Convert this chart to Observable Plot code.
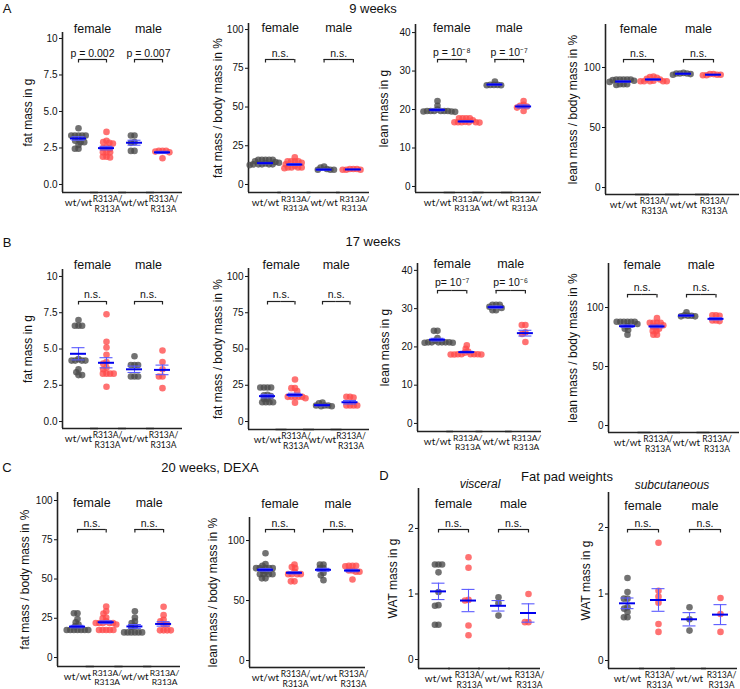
<!DOCTYPE html>
<html><head><meta charset="utf-8">
<script src="https://cdn.jsdelivr.net/npm/d3@7"></script>
<script src="https://cdn.jsdelivr.net/npm/@observablehq/plot@0.6"></script>
<style>
html,body{margin:0;padding:0;background:#fff;}
#root{position:relative;width:740px;height:689px;overflow:hidden;font-family:"Liberation Sans",Arial,sans-serif;color:#111;}
.t{position:absolute;transform:translate(-50%,-50%);line-height:1;white-space:nowrap;}
</style></head>
<body><div id="root"></div>
<script>
// ---------- categories ----------
const groups = ["female wt/wt", "female R313A/R313A", "male wt/wt", "male R313A/R313A"];
const catLabels = ["wt/wt", "R313A/\nR313A", "wt/wt", "R313A/\nR313A"];
const sexLabels = ["female", "male"];

// ---------- tick values / labels ----------
const ticksFat = [0, 2.5, 5, 7.5, 10];
const ticksFatLabels = ["0.0", "2.5", "5.0", "7.5", "10"];
const ticksPct = [0, 25, 50, 75, 100];
const ticksPctLabels = ["0", "25", "50", "75", "100"];
const ticksLean = [0, 10, 20, 30, 40];
const ticksLeanLabels = ["0", "10", "20", "30", "40"];
const ticksLeanPct = [0, 50, 100];
const ticksLeanPctLabels = ["0", "50", "100"];
const ticksWat = [0, 1, 2];
const ticksWatLabels = ["0", "1", "2"];

// ---------- A: 9 weeks ----------
const a_fat_g = [
  [3.85, 3.35, 3.35, 3.35, 3.35, 3.35, 3.1, 3.0, 2.9, 2.9, 2.7, 2.45, 2.45],
  [3.6, 3.0, 2.9, 2.85, 2.8, 2.55, 2.5, 2.45, 2.2, 2.2, 2.2, 1.9, 1.9, 1.85],
  [3.35, 3.35, 2.9, 2.85, 2.3, 2.3],
  [2.3, 2.3, 2.3, 2.25, 2.2, 1.8]
];
const a_fat_g_mean = [3.15, 2.49, 2.86, 2.2];
const a_fat_g_sem = [0.12, 0.12, 0.17, 0.07];
const a_fat_g_sig = ["p = 0.002", "p = 0.007"];

const a_fat_pct = [
  [16, 16, 16, 16, 16, 15, 14.5, 14, 13.5, 13, 13, 13, 13, 13, 12.5],
  [17.5, 15, 15, 15, 15, 14, 13, 12, 11, 11, 11, 11, 10.5],
  [11.5, 11, 10, 9.5, 9.5, 9.5],
  [10, 10, 10, 9.5, 9.5, 9.5]
];
const a_fat_pct_mean = [13.8, 12.9, 9.6, 9.7];
const a_fat_pct_sem = [0.45, 0.6, 0.35, 0.15];
const a_fat_pct_sig = ["n.s.", "n.s."];

const a_lean_g = [
  [22.2, 21, 20, 19.6, 19.6, 19.6, 19.6, 19.6, 19.6, 19.5, 19.5, 19.4],
  [17.7, 17.7, 17.7, 17.7, 17.2, 16.8, 16.7, 16.7, 16.7, 16.7, 16.7, 16.6],
  [27.3, 26.4, 26.4, 26.4, 26.3, 26.3],
  [22.2, 21.2, 21, 20.8, 20.5, 19.6]
];
const a_lean_g_mean = [19.9, 16.9, 26.5, 20.8];
const a_lean_g_sem = [0.25, 0.15, 0.15, 0.4];
const a_lean_g_sig = ["p = 10⁻⁸", "p = 10⁻⁷"];

const a_lean_pct = [
  [90, 90, 90, 90, 90, 89.5, 89, 88, 86, 86, 86, 85.5],
  [92.5, 92, 91.5, 90.5, 90, 89, 88.5, 88.5, 88.5, 88.5, 88.5],
  [95.5, 95, 95, 95, 94.5, 94],
  [94.5, 94.5, 94, 94, 93.5, 93.5]
];
const a_lean_pct_mean = [88.3, 90, 94.8, 94];
const a_lean_pct_sem = [0.5, 0.5, 0.3, 0.2];
const a_lean_pct_sig = ["n.s.", "n.s."];

// ---------- B: 17 weeks ----------
const b_fat_g = [
  [7.0, 6.6, 6.6, 6.6, 4.3, 4.2, 4.2, 4.2, 4.2, 3.6, 3.4, 3.2, 3.2],
  [7.4, 5.5, 5.1, 4.6, 4.1, 4.0, 3.7, 3.6, 3.3, 3.3, 3.3, 3.3, 2.4],
  [4.5, 3.9, 3.9, 3.9, 3.1, 3.1, 3.1],
  [4.9, 4.1, 3.6, 3.1, 3.1, 2.3]
];
const b_fat_g_mean = [4.67, 4.05, 3.6, 3.56];
const b_fat_g_sem = [0.42, 0.35, 0.22, 0.33];
const b_fat_g_sig = ["n.s.", "n.s."];

const b_fat_pct = [
  [23.5, 23.5, 23.5, 23.5, 18.5, 18, 17.5, 15.5, 15.5, 13.3, 13.3, 13.3, 13.3],
  [29, 23, 23, 21, 17, 17, 17, 17, 17, 16, 13],
  [13, 12.5, 11, 11, 11, 10.5, 10.5],
  [17, 17, 16.5, 11, 11, 11, 11]
];
const b_fat_pct_mean = [17.5, 18.4, 11.3, 13.3];
const b_fat_pct_sem = [1.2, 1.1, 0.5, 1.2];
const b_fat_pct_sig = ["n.s.", "n.s."];

const b_lean_g = [
  [24.2, 24.2, 22.3, 21.6, 21.2, 21.2, 21.2, 21.2, 21.2, 21.2, 21.1, 21.1],
  [20.4, 19.5, 18.8, 18.5, 18.1, 18.1, 18.1, 18.1, 18.1, 18.0, 18.0, 18.0],
  [31, 31, 31, 30.5, 30.2, 29.6, 29.6],
  [25.7, 25.7, 23.8, 23.4, 21.3]
];
const b_lean_g_mean = [21.9, 18.65, 30.4, 23.6];
const b_lean_g_sem = [0.35, 0.2, 0.3, 0.75];
const b_lean_g_sig = ["p= 10⁻⁷", "p= 10⁻⁶"];

const b_lean_pct = [
  [88, 88, 88, 88, 88, 88, 86, 84, 82, 81, 77],
  [91, 87, 87, 87, 87, 85, 84, 84, 82, 80, 80, 77, 77],
  [96, 93.5, 93, 93, 92.5, 92.5],
  [93.5, 93.5, 93, 89, 89, 88.5]
];
const b_lean_pct_mean = [84.2, 84, 93.2, 90.4];
const b_lean_pct_sem = [1, 1.1, 0.5, 1];
const b_lean_pct_sig = ["n.s.", "n.s."];

// ---------- C: 20 weeks, DEXA ----------
const c_fat_pct = [
  [28.2, 28.2, 24.5, 22.5, 21, 20, 17.5, 17.5, 17.5, 17.5, 17.5, 17.5, 17.5],
  [32.5, 29.5, 28, 25.5, 25, 23, 22, 22, 22, 22, 22, 21, 17.5, 17.5, 17.5, 17.5, 17.5],
  [29.5, 25.5, 23, 22, 20, 19.5, 16, 16, 16, 16, 16, 16],
  [32.3, 27, 24, 23, 21, 21, 17.3, 17.3, 17.3, 17.3]
];
const c_fat_pct_mean = [19.7, 22.5, 19.8, 21.4];
const c_fat_pct_sem = [0.8, 0.9, 1.2, 1.4];
const c_fat_pct_sig = ["n.s.", "n.s."];

const c_lean_pct = [
  [89.4, 80.5, 79, 77, 77, 77, 77, 77, 75, 74, 72, 72, 72, 72, 68.5, 68.5],
  [80, 78, 77, 77, 77, 77, 77, 77, 74, 72, 72, 72, 72, 66, 66],
  [80, 80, 77, 77, 77, 77, 77, 77, 73, 71, 67],
  [79, 79, 79, 78.5, 75, 75, 74, 74, 67.5]
];
const c_lean_pct_mean = [75.6, 73.1, 75.6, 75];
const c_lean_pct_sem = [1.1, 0.9, 1.2, 1];
const c_lean_pct_sig = ["n.s.", "n.s."];

// ---------- D: fat pad weights ----------
const d_visceral = [
  [1.45, 1.45, 1.45, 1.33, 1.03, 0.83, 0.82, 0.53, 0.53],
  [1.56, 1.4, 0.91, 0.9, 0.52, 0.37],
  [0.95, 0.86, 0.67],
  [1.0, 0.57, 0.57]
];
const d_visceral_mean = [1.04, 0.9, 0.82, 0.71];
const d_visceral_sem = [0.125, 0.17, 0.08, 0.14];
const d_visceral_sig = ["n.s.", "n.s."];

const d_subcut = [
  [1.24, 1.03, 0.93, 0.93, 0.8, 0.78, 0.73, 0.65, 0.65],
  [1.77, 1.05, 0.96, 0.87, 0.55, 0.43],
  [0.8, 0.62, 0.45],
  [0.94, 0.7, 0.43]
];
const d_subcut_mean = [0.86, 0.91, 0.62, 0.69];
const d_subcut_sem = [0.08, 0.17, 0.1, 0.15];
const d_subcut_sig = ["n.s.", "n.s."];

// ---------- panel layout (pixels) ----------
const panels = [
  {values: a_fat_g, mean: a_fat_g_mean, sem: a_fat_g_sem, sig: a_fat_g_sig, label: "fat mass in g", ticks: ticksFat, tickLabels: ticksFatLabels,
   axisX: 62, T: 32, B: 192, lo: -0.55, hi: 10.41, c1: 78, s: 28, E: 182, labY: 28, sigY: 53, brY: 59, labDx: 34},
  {values: a_fat_pct, mean: a_fat_pct_mean, sem: a_fat_pct_sem, sig: a_fat_pct_sig, label: "fat mass / body mass in %", ticks: ticksPct, tickLabels: ticksPctLabels,
   axisX: 248, T: 23, B: 192, lo: -5.16, hi: 103.9, c1: 265, s: 29.3, E: 369, labY: 28, sigY: 53, brY: 59, labDx: 30},
  {values: a_lean_g, mean: a_lean_g_mean, sem: a_lean_g_sem, sig: a_lean_g_sig, label: "lean mass in g", ticks: ticksLean, tickLabels: ticksLeanLabels,
   axisX: 415, T: 24, B: 192, lo: -1.56, hi: 42.1, c1: 437, s: 28.7, E: 541, labY: 28, sigY: 52, brY: 59, labDx: 31},
  {values: a_lean_pct, mean: a_lean_pct_mean, sem: a_lean_pct_sem, sig: a_lean_pct_sig, label: "lean mass / body mass in %", ticks: ticksLeanPct, tickLabels: ticksLeanPctLabels,
   axisX: 605, T: 24, B: 194, lo: -5.8, hi: 135.8, c1: 623, s: 30, E: 739, labY: 28, sigY: 53, brY: 59, labDx: 32},
  {values: b_fat_g, mean: b_fat_g_mean, sem: b_fat_g_sem, sig: b_fat_g_sig, label: "fat mass in g", ticks: ticksFat, tickLabels: ticksFatLabels,
   axisX: 62, T: 269, B: 428, lo: -0.48, hi: 10.48, c1: 78, s: 28, E: 182, labY: 264, sigY: 294, brY: 301, labDx: 34},
  {values: b_fat_pct, mean: b_fat_pct_mean, sem: b_fat_pct_sem, sig: b_fat_pct_sig, label: "fat mass / body mass in %", ticks: ticksPct, tickLabels: ticksPctLabels,
   axisX: 248, T: 268, B: 429, lo: -5.5, hi: 105.5, c1: 267, s: 27.5, E: 369, labY: 264, sigY: 294, brY: 301, labDx: 30},
  {values: b_lean_g, mean: b_lean_g_mean, sem: b_lean_g_sem, sig: b_lean_g_sig, label: "lean mass in g", ticks: ticksLean, tickLabels: ticksLeanLabels,
   axisX: 417, T: 263, B: 431, lo: -2.1, hi: 41.8, c1: 437, s: 29.3, E: 541, labY: 264, sigY: 282, brY: 290, labDx: 32},
  {values: b_lean_pct, mean: b_lean_pct_mean, sem: b_lean_pct_sem, sig: b_lean_pct_sig, label: "lean mass / body mass in %", ticks: ticksLeanPct, tickLabels: ticksLeanPctLabels,
   axisX: 608, T: 263, B: 432, lo: -5.9, hi: 137.3, c1: 627, s: 29.5, E: 739, labY: 264, sigY: 287, brY: 294, labDx: 35},
  {values: c_fat_pct, mean: c_fat_pct_mean, sem: c_fat_pct_sem, sig: c_fat_pct_sig, label: "fat mass / body mass in %", ticks: ticksPct, tickLabels: ticksPctLabels,
   axisX: 57, T: 492, B: 666, lo: -5.7, hi: 105.1, c1: 77, s: 28.7, E: 180, labY: 503, sigY: 523, brY: 529, labDx: 32},
  {values: c_lean_pct, mean: c_lean_pct_mean, sem: c_lean_pct_sem, sig: c_lean_pct_sig, label: "lean mass / body mass in %", ticks: ticksLeanPct, tickLabels: ticksLeanPctLabels,
   axisX: 249, T: 517, B: 667, lo: -5.8, hi: 119.2, c1: 265, s: 29, E: 363, labY: 503, sigY: 523, brY: 529, labDx: 36},
  {values: d_visceral, mean: d_visceral_mean, sem: d_visceral_sem, sig: d_visceral_sig, label: "WAT mass in g", ticks: ticksWat, tickLabels: ticksWatLabels,
   axisX: 418, T: 488, B: 668, lo: -0.137, hi: 2.61, c1: 438, s: 30, E: 540, labY: 503, sigY: 523, brY: 529, labDx: 25},
  {values: d_subcut, mean: d_subcut_mean, sem: d_subcut_sem, sig: d_subcut_sig, label: "WAT mass in g", ticks: ticksWat, tickLabels: ticksWatLabels,
   axisX: 608, T: 492, B: 668, lo: -0.12, hi: 2.526, c1: 627, s: 31, E: 737, labY: 505, sigY: 523, brY: 529, labDx: 22}
];

const FONT = '"Liberation Sans", Arial, sans-serif';
const CATFONT = "Lato, 'Liberation Sans', sans-serif";
const GREY = "#4a4a4a", RED = "#ff4a4a";
const root = document.getElementById("root");

function drawPanel(p) {
  const ML = 50, MR = 24, MT = 16, MB = 28;
  const s = p.s;
  const shift = (p.c1 - p.axisX) - s / 2;
  const width = ML + 4 * s + MR;
  const height = MT + (p.B - p.T) + MB;
  const mid = (p.T + p.B) / 2;
  const ext = Math.max(0, p.E - (p.axisX + 4 * s));
  const pts = p.values.flatMap((vals, gi) => vals.map(v => ({g: groups[gi], v, fill: gi % 2 ? RED : GREY})));
  const stats = groups.map((g, i) => ({g, mean: p.mean[i], lo: p.mean[i] - p.sem[i], hi: p.mean[i] + p.sem[i]}));
  const leftG = [0, 2].map((gi, k) => ({g: groups[gi], sex: sexLabels[k], sig: p.sig[k]}));
  const rightG = [1, 3].map(gi => ({g: groups[gi]}));
  const cats = groups.map((g, i) => ({g, t: catLabels[i], ki: i % 2 === 1}));
  const capIn = (s - 13) / 2, meanIn = (s - 16) / 2;
  const svg = Plot.plot({
    width, height, marginLeft: ML, marginRight: MR, marginTop: MT, marginBottom: MB,
    style: {fontFamily: FONT, fontSize: "10px", color: "#111", background: "transparent", overflow: "visible"},
    fx: {domain: groups, axis: null, padding: 0, round: false},
    y: {domain: [p.lo, p.hi], ticks: p.ticks, tickFormat: d => p.tickLabels[p.ticks.indexOf(d)], tickSize: 3, tickPadding: 2, label: null},
    color: {type: "identity"},
    marks: [
      // axes lines
      Plot.ruleY([{}], {y: null, dy: (p.B - p.T) / 2, insetRight: -ext, strokeWidth: 1.6, stroke: "#222"}),
      Plot.ruleX([{g: groups[0]}], {fx: "g", x: null, dx: -s / 2, strokeWidth: 1.6, stroke: "#222"}),
      // dots
      Plot.dot(pts, Plot.dodgeX({anchor: "middle", padding: -3}, {fx: "g", y: "v", r: 3.3, fill: "fill", fillOpacity: 0.78, dx: shift})),
      // SEM
      Plot.ruleX(stats, {fx: "g", x: null, y1: "lo", y2: "hi", stroke: "#5a5aff", strokeWidth: 1.1, dx: shift}),
      Plot.ruleY(stats, {fx: "g", y: "lo", stroke: "#5a5aff", strokeWidth: 1.1, insetLeft: capIn, insetRight: capIn, dx: shift}),
      Plot.ruleY(stats, {fx: "g", y: "hi", stroke: "#5a5aff", strokeWidth: 1.1, insetLeft: capIn, insetRight: capIn, dx: shift}),
      // mean
      Plot.ruleY(stats, {fx: "g", y: "mean", stroke: "#0000ee", strokeWidth: 2, insetLeft: meanIn, insetRight: meanIn, dx: shift}),
      // sex labels
      Plot.text(leftG, {fx: "g", text: "sex", frameAnchor: "top-right", textAnchor: "middle", lineAnchor: "middle", dy: p.labY - p.T, dx: shift, fontSize: 12.5}),
      // significance
      Plot.text(leftG, {fx: "g", text: "sig", frameAnchor: "top-right", textAnchor: "middle", lineAnchor: "middle", dy: p.sigY - p.T, dx: shift, fontSize: 10.5}),
      Plot.ruleY(leftG, {fx: "g", y: null, insetLeft: s / 2, dy: p.brY - mid, dx: shift, strokeWidth: 1.2, stroke: "#222"}),
      Plot.ruleY(rightG, {fx: "g", y: null, insetRight: s / 2, dy: p.brY - mid, dx: shift, strokeWidth: 1.2, stroke: "#222"}),
      Plot.ruleX(groups.map(g => ({g})), {fx: "g", x: null, insetTop: p.brY - p.T, insetBottom: p.B - p.brY - 3.5, dx: shift, strokeWidth: 1.2, stroke: "#222"}),
      // y label
      Plot.text([{g: groups[0], t: p.label}], {fx: "g", text: "t", frameAnchor: "left", textAnchor: "middle", lineAnchor: "middle", rotate: -90, dx: -p.labDx, fontSize: 12}),
      // category labels
      Plot.text(cats.filter(d => !d.ki), {fx: "g", text: "t", frameAnchor: "bottom", textAnchor: "middle", lineAnchor: "middle", dy: 10, dx: shift, fontSize: 10, fontFamily: CATFONT}),
      Plot.text(cats.filter(d => d.ki), {fx: "g", text: "t", frameAnchor: "bottom", textAnchor: "middle", lineAnchor: "middle", dy: 11, dx: shift + 1, fontSize: 8.5, lineHeight: 1.15, fontFamily: CATFONT})
    ]
  });
  svg.style.position = "absolute";
  svg.style.left = (p.axisX - ML) + "px";
  svg.style.top = (p.T - MT) + "px";
  svg.style.background = "transparent";
  root.appendChild(svg);
}
panels.forEach(drawPanel);

function addText(txt, x, y, size, extra) {
  const d = document.createElement("div");
  d.className = "t";
  d.textContent = txt;
  d.style.left = x + "px";
  d.style.top = y + "px";
  d.style.fontSize = size + "px";
  if (extra) Object.assign(d.style, extra);
  root.appendChild(d);
}
addText("A", 7, 8, 13);
addText("9 weeks", 373, 8, 13);
addText("B", 7, 242, 13);
addText("17 weeks", 373, 241, 13);
addText("C", 7, 467, 13);
addText("20 weeks, DEXA", 210, 467, 13);
addText("D", 384, 475, 13);
addText("Fat pad weights", 567, 476, 13);
addText("visceral", 480, 484, 12, {fontStyle: "italic"});
addText("subcutaneous", 672, 485, 12, {fontStyle: "italic"});
</script>
</body></html>
